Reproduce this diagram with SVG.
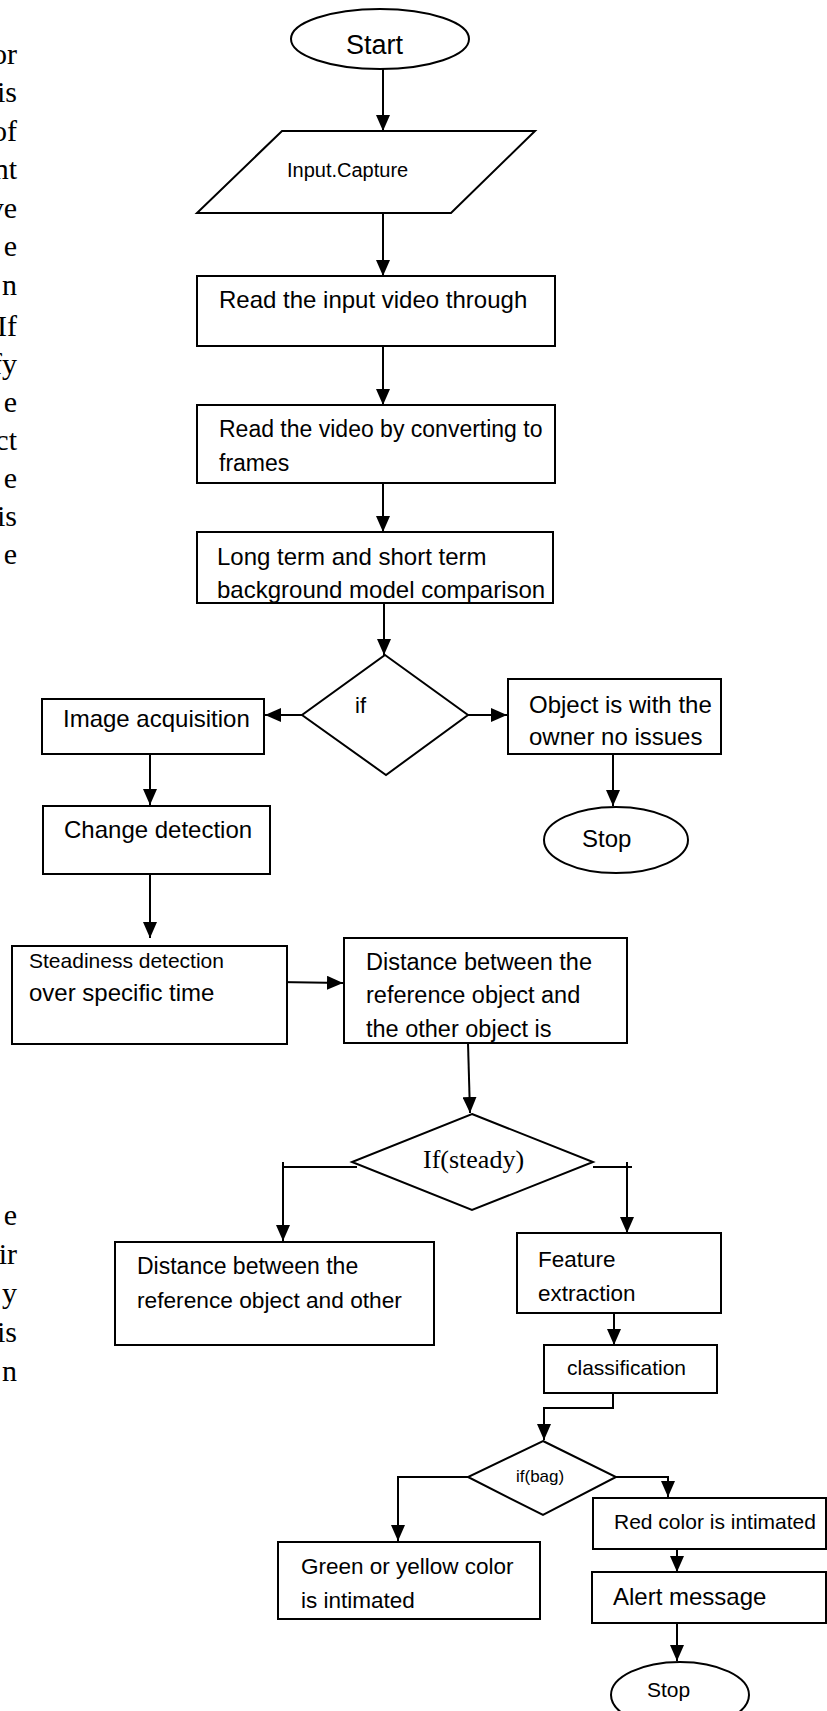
<svg xmlns="http://www.w3.org/2000/svg" width="827" height="1711" viewBox="0 0 827 1711">
<style>
.s{fill:#fff;stroke:#000;stroke-width:2}
.t{font-family:"Liberation Sans",Arial,sans-serif;fill:#000}
.f{font-family:"Liberation Serif","Times New Roman",serif;fill:#000;font-size:30px;text-anchor:end}
.c{fill:none;stroke:#000;stroke-width:2}
</style>
<defs>
<marker id="ah" markerWidth="16" markerHeight="14" refX="16" refY="7" orient="auto" markerUnits="userSpaceOnUse"><path d="M0,0 L16,7 L0,14 z" fill="#000"/></marker>
</defs>
<rect width="827" height="1711" fill="#fff"/>
<g id="page-text">
<text class="f" x="17" y="64">or</text>
<text class="f" x="17" y="102">is</text>
<text class="f" x="17" y="141">of</text>
<text class="f" x="17" y="179">nt</text>
<text class="f" x="17" y="218">ve</text>
<text class="f" x="17" y="256">e</text>
<text class="f" x="17" y="295">n</text>
<text class="f" x="17" y="336">If</text>
<text class="f" x="17" y="374">fy</text>
<text class="f" x="17" y="412">e</text>
<text class="f" x="17" y="450">ct</text>
<text class="f" x="17" y="488">e</text>
<text class="f" x="17" y="526">is</text>
<text class="f" x="17" y="564">e</text>
<text class="f" x="17" y="1225">e</text>
<text class="f" x="17" y="1264">ir</text>
<text class="f" x="17" y="1303">y</text>
<text class="f" x="17" y="1342">is</text>
<text class="f" x="17" y="1381">n</text>
</g>
<g id="connectors">
<line class="c" x1="383" y1="69" x2="383" y2="131" marker-end="url(#ah)"/>
<line class="c" x1="383" y1="213" x2="383" y2="276" marker-end="url(#ah)"/>
<line class="c" x1="383" y1="346" x2="383" y2="405" marker-end="url(#ah)"/>
<line class="c" x1="383" y1="483" x2="383" y2="532" marker-end="url(#ah)" stroke="#333"/>
<line class="c" x1="384" y1="604" x2="384" y2="655" marker-end="url(#ah)" stroke="#333"/>
<line class="c" x1="302" y1="715" x2="265" y2="715" marker-end="url(#ah)"/>
<line class="c" x1="468" y1="715" x2="507" y2="715" marker-end="url(#ah)"/>
<line class="c" x1="613" y1="754" x2="613" y2="806" marker-end="url(#ah)"/>
<line class="c" x1="150" y1="754" x2="150" y2="805" marker-end="url(#ah)" stroke="#333"/>
<line class="c" x1="150" y1="874" x2="150" y2="938" marker-end="url(#ah)"/>
<line class="c" x1="278" y1="982" x2="343" y2="983" marker-end="url(#ah)"/>
<line class="c" x1="468" y1="1043" x2="470" y2="1113" marker-end="url(#ah)"/>
<polyline class="c" points="357,1167 283,1167"/>
<line class="c" x1="283" y1="1162" x2="283" y2="1241" marker-end="url(#ah)"/>
<polyline class="c" points="593,1167 632,1167"/>
<line class="c" x1="627" y1="1162" x2="627" y2="1233" marker-end="url(#ah)"/>
<line class="c" x1="614" y1="1313" x2="614" y2="1345" marker-end="url(#ah)" stroke="#333"/>
<polyline class="c" points="613,1393 613,1408 544,1408 544,1440" marker-end="url(#ah)"/>
<polyline class="c" points="468,1477 398,1477 398,1541" marker-end="url(#ah)"/>
<polyline class="c" points="616,1477 668,1477 668,1497" marker-end="url(#ah)"/>
<line class="c" x1="677" y1="1549" x2="677" y2="1572" marker-end="url(#ah)" stroke="#333"/>
<line class="c" x1="677" y1="1623" x2="677" y2="1661" marker-end="url(#ah)" stroke="#333"/>
</g>
<g id="start">
<ellipse class="s" cx="380" cy="39" rx="89" ry="30"/>
<text class="t" x="346" y="54" font-size="27">Start</text>
</g>
<g id="input-capture">
<polygon class="s" points="282,131 535,131 451,213 197,213"/>
<text class="t" x="287" y="177" font-size="20">Input.Capture</text>
</g>
<g id="read-input">
<rect class="s" x="197" y="276" width="358" height="70"/>
<text class="t" x="219" y="308" font-size="24">Read the input video through</text>
</g>
<g id="read-frames">
<rect class="s" x="197" y="405" width="358" height="78"/>
<text class="t" x="219" y="437" font-size="23">Read the video by converting to</text>
<text class="t" x="219" y="471" font-size="23">frames</text>
</g>
<g id="background-model">
<rect class="s" x="197" y="532" width="356" height="71"/>
<text class="t" x="217" y="565" font-size="24">Long term and short term</text>
<text class="t" x="217" y="598" font-size="24">background model comparison</text>
</g>
<g id="if-decision">
<polygon class="s" points="385,655 468,715 386,775 302,715"/>
<text class="t" x="355" y="713" font-size="22">if</text>
</g>
<g id="image-acquisition">
<rect class="s" x="42" y="699" width="222" height="55"/>
<text class="t" x="63" y="727" font-size="24">Image acquisition</text>
</g>
<g id="object-owner">
<rect class="s" x="508" y="679" width="213" height="75"/>
<text class="t" x="529" y="713" font-size="24">Object is with the</text>
<text class="t" x="529" y="745" font-size="24">owner no issues</text>
</g>
<g id="stop-1">
<ellipse class="s" cx="616" cy="840" rx="72" ry="33"/>
<text class="t" x="582" y="847" font-size="24">Stop</text>
</g>
<g id="change-detection">
<rect class="s" x="43" y="806" width="227" height="68"/>
<text class="t" x="64" y="838" font-size="24">Change detection</text>
</g>
<g id="steadiness">
<rect class="s" x="12" y="946" width="275" height="98"/>
<text class="t" x="29" y="968" font-size="21">Steadiness detection</text>
<text class="t" x="29" y="1001" font-size="24">over specific time</text>
</g>
<g id="distance-1">
<rect class="s" x="344" y="938" width="283" height="105"/>
<text class="t" x="366" y="970" font-size="23.5">Distance between the</text>
<text class="t" x="366" y="1003" font-size="23.5">reference object and</text>
<text class="t" x="366" y="1037" font-size="23.5">the other object is</text>
</g>
<g id="if-steady">
<polygon class="s" points="472,1114 593,1162 472,1210 352,1162"/>
<text x="423" y="1168" font-size="26" font-family="'Liberation Serif','Times New Roman',serif">If(steady)</text>
</g>
<g id="distance-2">
<rect class="s" x="115" y="1242" width="319" height="103"/>
<text class="t" x="137" y="1274" font-size="23">Distance between the</text>
<text class="t" x="137" y="1308" font-size="22.7">reference object and other</text>
</g>
<g id="feature-extraction">
<rect class="s" x="517" y="1233" width="204" height="80"/>
<text class="t" x="538" y="1267" font-size="22.5">Feature</text>
<text class="t" x="538" y="1301" font-size="22.5">extraction</text>
</g>
<g id="classification">
<rect class="s" x="544" y="1345" width="173" height="48"/>
<text class="t" x="567" y="1375" font-size="21">classification</text>
</g>
<g id="if-bag">
<polygon class="s" points="543,1441 616,1477 543,1515 468,1477"/>
<text class="t" x="516" y="1482" font-size="17">if(bag)</text>
</g>
<g id="green-yellow">
<rect class="s" x="278" y="1542" width="262" height="77"/>
<text class="t" x="301" y="1574" font-size="22.5">Green or yellow color</text>
<text class="t" x="301" y="1608" font-size="22.5">is intimated</text>
</g>
<g id="red-color">
<rect class="s" x="593" y="1498" width="233" height="51"/>
<text class="t" x="614" y="1529" font-size="21">Red color is intimated</text>
</g>
<g id="alert-message">
<rect class="s" x="592" y="1572" width="234" height="51"/>
<text class="t" x="613" y="1605" font-size="24">Alert message</text>
</g>
<g id="stop-2">
<ellipse class="s" cx="680" cy="1695" rx="69" ry="33"/>
<text class="t" x="647" y="1697" font-size="21">Stop</text>
</g>
</svg>
